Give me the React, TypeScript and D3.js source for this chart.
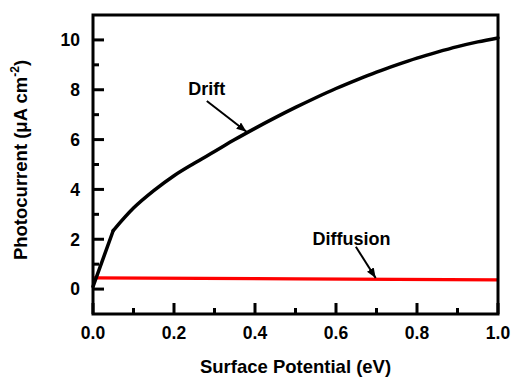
import React from "react";
import * as d3 from "d3";

// Surface potential (eV) sampled for the drift component
const driftX = [0, 0.05, 0.1, 0.15, 0.2, 0.25, 0.3, 0.35, 0.4, 0.45, 0.5, 0.55, 0.6, 0.65, 0.7, 0.75, 0.8, 0.85, 0.9, 0.95, 1.0];
// Drift photocurrent (µA cm^-2)
const driftY = [0.1, 2.35, 3.25, 3.95, 4.55, 5.05, 5.52, 6.0, 6.45, 6.88, 7.29, 7.68, 8.05, 8.39, 8.71, 9.0, 9.27, 9.51, 9.73, 9.92, 10.08];

// Diffusion photocurrent: nearly flat over the whole range
const diffX = [0, 0.5, 1.0];
const diffY = [0.45, 0.41, 0.37];

const xMajor = [0, 0.2, 0.4, 0.6, 0.8, 1.0];
const xMinor = [0.1, 0.3, 0.5, 0.7, 0.9];
const yMajor = [0, 2, 4, 6, 8, 10];
const yMinor = [1, 3, 5, 7, 9];

const W = 513;
const H = 379;
const M = { left: 93, right: 15, top: 15, bottom: 65 };
const FONT = "'Liberation Sans', Arial, Helvetica, sans-serif";

export default function App() {
  const x = d3.scaleLinear().domain([0, 1]).range([M.left, W - M.right]);
  const y = d3.scaleLinear().domain([-1, 11]).range([H - M.bottom, M.top]);

  const drift = driftX.map((v, i) => [v, driftY[i]] as [number, number]);
  const diff = diffX.map((v, i) => [v, diffY[i]] as [number, number]);

  const straight = d3.line<[number, number]>().x((d) => x(d[0])).y((d) => y(d[1]));
  const smooth = d3
    .line<[number, number]>()
    .x((d) => x(d[0]))
    .y((d) => y(d[1]))
    .curve(d3.curveMonotoneX);

  const x0 = x(0), x1 = x(1), yb = y(-1), yt = y(11);

  // curve value at a given potential, for placing the arrow tip on the line
  const driftAt = (v: number) => {
    const i = d3.bisectLeft(driftX, v);
    const a = Math.max(1, i);
    const t = (v - driftX[a - 1]) / (driftX[a] - driftX[a - 1]);
    return driftY[a - 1] + t * (driftY[a] - driftY[a - 1]);
  };
  const diffAt = (v: number) => diffY[0] + (diffY[2] - diffY[0]) * v;

  const arrows = [
    { from: [0.281, 7.55], to: [0.379, driftAt(0.379) + 0.05] },
    { from: [0.649, 1.7], to: [0.698, diffAt(0.698) + 0.05] },
  ];

  return (
    <svg
      width={W}
      height={H}
      style={{ position: "absolute", left: 0, top: 0, background: "#fff" }}
      fontFamily={FONT}
      fontWeight="bold"
    >
      <defs>
        <marker
          id="head"
          viewBox="0 0 10 8"
          refX={10}
          refY={4}
          markerWidth={10}
          markerHeight={8}
          markerUnits="userSpaceOnUse"
          orient="auto"
        >
          <path d="M0,0 L10,4 L0,8 Z" fill="#000" />
        </marker>
      </defs>

      {/* data lines */}
      <path d={straight(diff) ?? ""} fill="none" stroke="#ff0000" strokeWidth={3.2} />
      <path d={straight(drift.slice(0, 2)) ?? ""} fill="none" stroke="#000" strokeWidth={3.5} strokeLinecap="round" />
      <path d={smooth(drift.slice(1)) ?? ""} fill="none" stroke="#000" strokeWidth={3.5} strokeLinecap="round" />

      {/* annotations */}
      {arrows.map((a, i) => (
        <line
          key={i}
          x1={x(a.from[0])}
          y1={y(a.from[1])}
          x2={x(a.to[0])}
          y2={y(a.to[1])}
          stroke="#000"
          strokeWidth={2}
          markerEnd="url(#head)"
        />
      ))}
      <text x={x(0.235)} y={y(7.8)} fontSize={18}>Drift</text>
      <text x={x(0.542)} y={y(1.75)} fontSize={18}>Diffusion</text>

      {/* frame */}
      <rect x={x0} y={yt} width={x1 - x0} height={yb - yt} fill="none" stroke="#000" strokeWidth={3} />

      {/* x ticks (inward) */}
      {xMajor.map((v) => (
        <g key={"xM" + v}>
          <line x1={x(v)} x2={x(v)} y1={yb} y2={yb - 11} stroke="#000" strokeWidth={3} />
          <text x={x(v)} y={339} textAnchor="middle" fontSize={17.5}>
            {v.toFixed(1)}
          </text>
        </g>
      ))}
      {xMinor.map((v) => (
        <line key={"xm" + v} x1={x(v)} x2={x(v)} y1={yb} y2={yb - 6} stroke="#000" strokeWidth={3} />
      ))}

      {/* y ticks (inward) */}
      {yMajor.map((v) => (
        <g key={"yM" + v}>
          <line x1={x0} x2={x0 + 11} y1={y(v)} y2={y(v)} stroke="#000" strokeWidth={3} />
          <text x={80} y={y(v)} dy="0.36em" textAnchor="end" fontSize={17.5}>
            {v}
          </text>
        </g>
      ))}
      {yMinor.map((v) => (
        <line key={"ym" + v} x1={x0} x2={x0 + 6} y1={y(v)} y2={y(v)} stroke="#000" strokeWidth={3} />
      ))}

      {/* axis titles */}
      <text x={(x0 + x1) / 2} y={373} textAnchor="middle" fontSize={18.5}>
        Surface Potential (eV)
      </text>
      <text transform="translate(27,160) rotate(-90)" textAnchor="middle" fontSize={18.5}>
        Photocurrent (μA cm
        <tspan fontSize={12} dy={-8}>-2</tspan>
        <tspan dy={8}>)</tspan>
      </text>
    </svg>
  );
}
